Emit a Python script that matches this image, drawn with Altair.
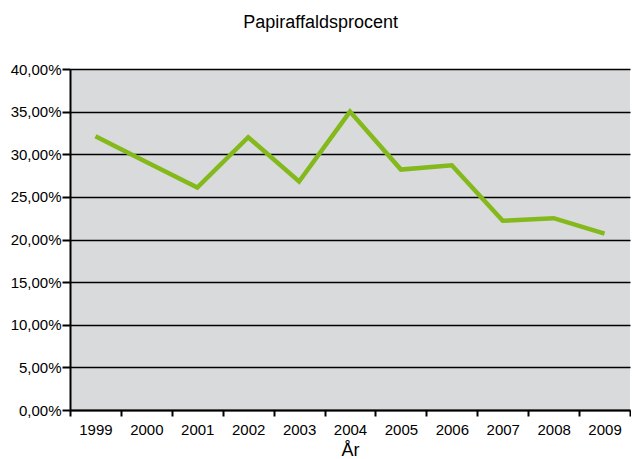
import altair as alt
import pandas as pd

years = ["1999", "2000", "2001", "2002", "2003", "2004", "2005", "2006", "2007", "2008", "2009"]
values = [0.321, 0.291, 0.261, 0.320, 0.268, 0.350, 0.282, 0.287, 0.222, 0.225, 0.207]

df = pd.DataFrame({"year": years, "value": values})

chart = alt.Chart(df).mark_line(color="#84b91b", strokeWidth=4.5, strokeJoin="miter").encode(
    x=alt.X("year:N", sort=years, title="År",
            scale=alt.Scale(paddingInner=0, paddingOuter=0),
            axis=alt.Axis(labelAngle=0, tickBand="extent", domainColor="#000000",
                          domainWidth=2, tickColor="#000000", tickWidth=2, tickSize=6,
                          labelPadding=6, labelFontSize=15, labelColor="#000000",
                          titleFontSize=18, titleFontWeight="normal", titleColor="#000000",
                          titlePadding=4, grid=False, labelFont="Liberation Sans",
                          titleFont="Liberation Sans")),
    y=alt.Y("value:Q", title=None,
            scale=alt.Scale(domain=[0, 0.4], nice=False),
            axis=alt.Axis(values=[0, 0.05, 0.1, 0.15, 0.2, 0.25, 0.3, 0.35, 0.4],
                          labelExpr="replace(format(datum.value, '.2%'), '.', ',')",
                          grid=True, gridColor="#000000", gridWidth=1.5, gridOpacity=1,
                          domainColor="#000000", domainWidth=2, tickColor="#000000",
                          tickWidth=2, tickSize=8, labelPadding=1, labelFontSize=15,
                          labelColor="#000000", labelFont="Liberation Sans")),
).properties(
    width=623,
    height=451,
    autosize=alt.AutoSizeParams(type="fit", contains="padding"),
    title=alt.TitleParams("Papiraffaldsprocent", fontSize=18, fontWeight="normal",
                          font="Liberation Sans", color="#000000", anchor="middle",
                          frame="bounds", offset=30),
    padding={"left": 2, "top": 6, "right": 0, "bottom": 0},
).configure_view(
    fill="#d9dadc", strokeWidth=0
)

chart.save("out.html", embed_options={"renderer": "svg", "actions": False})
